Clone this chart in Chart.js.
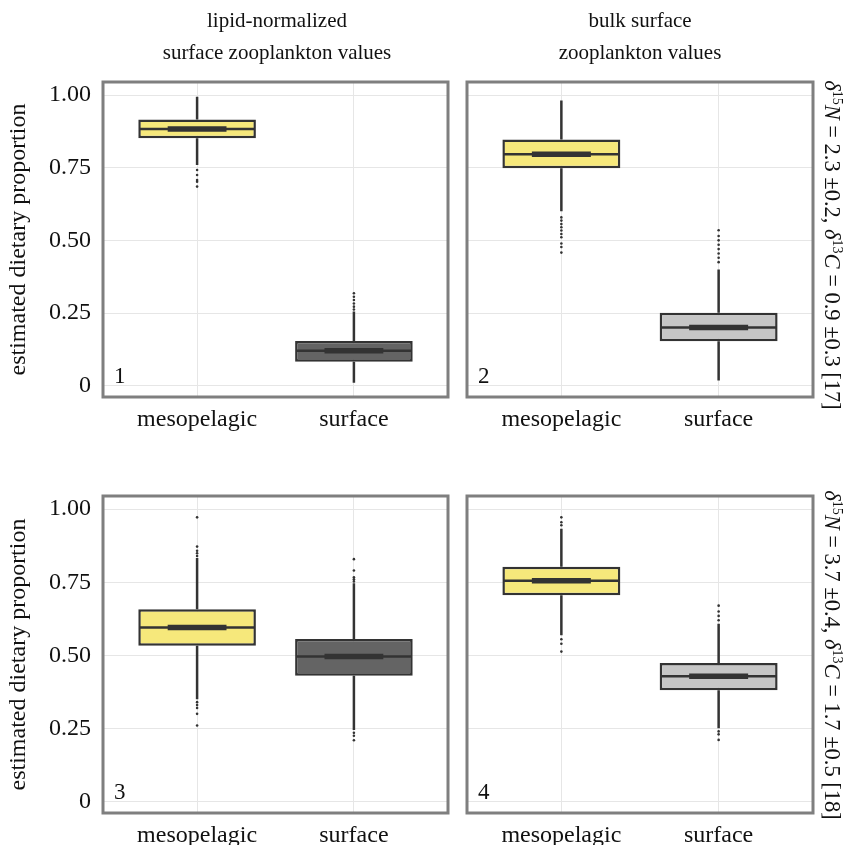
<!DOCTYPE html>
<html>
<head>
<meta charset="utf-8">
<script src="https://cdn.jsdelivr.net/npm/chart.js@4.4.1/dist/chart.umd.min.js"></script>
<style>
  body{ margin:0; background:#fff; }
  #wrap{ position:relative; width:854px; height:845px; overflow:hidden; font-family:"Liberation Serif", serif; color:#111; }
  canvas{ position:absolute; }
  .title{ position:absolute; width:360px; text-align:center; font-size:21px; line-height:32px; }
  .side{ position:absolute; width:420px; text-align:center; font-size:22.5px; line-height:26px; transform:rotate(90deg); white-space:nowrap; }
  .side sup{ font-size:14px; vertical-align:8px; line-height:0; }
</style>
</head>
<body>
<div id="wrap">
  <canvas id="c1" width="452" height="440" style="left:0;top:0"></canvas>
  <canvas id="c2" width="402" height="440" style="left:452px;top:0"></canvas>
  <canvas id="c3" width="452" height="405" style="left:0;top:440px"></canvas>
  <canvas id="c4" width="402" height="405" style="left:452px;top:440px"></canvas>

  <div class="title" style="left:97px;top:4px">lipid-normalized<br>surface zooplankton values</div>
  <div class="title" style="left:460px;top:4px">bulk surface<br>zooplankton values</div>

  <div class="side" style="left:622px;top:232px"><i>δ</i><sup>15</sup><i>N</i> = 2.3 ±0.2, <i>δ</i><sup>13</sup><i>C</i> = 0.9 ±0.3 [17]</div>
  <div class="side" style="left:622px;top:642px"><i>δ</i><sup>15</sup><i>N</i> = 3.7 ±0.4, <i>δ</i><sup>13</sup><i>C</i> = 1.7 ±0.5 [18]</div>
</div>

<script>
// data, one entry per panel (1..4), each with [mesopelagic, surface]
let categories = ["mesopelagic", "surface"];
let panelNumbers = ["1", "2", "3", "4"];
let yTicks = [0, 0.25, 0.5, 0.75, 1];
let yTickLabels = ["0", "0.25", "0.50", "0.75", "1.00"];

let q1 = [[0.851, 0.082], [0.748, 0.153], [0.533, 0.430], [0.706, 0.381]];
let medians = [[0.883, 0.120], [0.796, 0.200], [0.595, 0.496], [0.755, 0.429]];
let q3 = [[0.916, 0.154], [0.847, 0.251], [0.658, 0.556], [0.803, 0.474]];
let whiskerLow = [[0.759, 0.010], [0.600, 0.018], [0.350, 0.245], [0.569, 0.251]];
let whiskerHigh = [[0.994, 0.255], [0.981, 0.400], [0.833, 0.747], [0.933, 0.608]];
let outliers = [
  [[0.742, 0.725, 0.708, 0.702, 0.685], [0.262, 0.272, 0.283, 0.295, 0.306, 0.318]],
  [[0.579, 0.568, 0.556, 0.545, 0.534, 0.522, 0.511, 0.489, 0.477, 0.458], [0.425, 0.44, 0.455, 0.47, 0.485, 0.50, 0.515, 0.535]],
  [[0.972, 0.872, 0.858, 0.849, 0.840, 0.34, 0.33, 0.32, 0.30, 0.26], [0.829, 0.790, 0.767, 0.760, 0.753, 0.235, 0.225, 0.21]],
  [[0.945, 0.955, 0.972, 0.555, 0.54, 0.513], [0.62, 0.635, 0.65, 0.67, 0.24, 0.23, 0.211]]
];

let yMin = -0.039;
let yMax = 1.045;

let mesoFill = "#f6e87b";
let surfaceFill = ["#646464", "#c6c6c6", "#646464", "#c6c6c6"];
let ink = "#333333";
let serif = "'Liberation Serif', serif";

let boxPlugin = {
  id: "boxParts",
  beforeDatasetsDraw: function(chart){
    let p = chart.options.plugins.boxParts.panel;
    let x = chart.scales.x, y = chart.scales.y;
    let ctx = chart.ctx;
    ctx.save();
    ctx.strokeStyle = ink;
    ctx.lineWidth = 2.5;
    for(let i = 0; i < categories.length; i++){
      let px = x.getPixelForValue(i + 1);
      ctx.beginPath();
      ctx.moveTo(px, y.getPixelForValue(whiskerHigh[p][i]));
      ctx.lineTo(px, y.getPixelForValue(q3[p][i]));
      ctx.moveTo(px, y.getPixelForValue(q1[p][i]));
      ctx.lineTo(px, y.getPixelForValue(whiskerLow[p][i]));
      ctx.stroke();
    }
    ctx.restore();
  },
  afterDatasetsDraw: function(chart){
    let p = chart.options.plugins.boxParts.panel;
    let x = chart.scales.x, y = chart.scales.y;
    let ctx = chart.ctx;
    let half = (x.getPixelForValue(1.375) - x.getPixelForValue(1));
    ctx.save();
    ctx.strokeStyle = ink;
    for(let i = 0; i < categories.length; i++){
      let px = x.getPixelForValue(i + 1);
      let py = y.getPixelForValue(medians[p][i]);
      ctx.lineWidth = 2.5;
      ctx.beginPath();
      ctx.moveTo(px - half + 1, py);
      ctx.lineTo(px + half - 1, py);
      ctx.stroke();
      ctx.lineWidth = 5.5;
      ctx.beginPath();
      ctx.moveTo(px - half / 2, py);
      ctx.lineTo(px + half / 2, py);
      ctx.stroke();
    }
    ctx.restore();
  },
  afterDraw: function(chart){
    let p = chart.options.plugins.boxParts.panel;
    let a = chart.chartArea;
    let ctx = chart.ctx;
    ctx.save();
    ctx.strokeStyle = "#7f7f7f";
    ctx.lineWidth = 3;
    ctx.strokeRect(a.left, a.top, a.right - a.left, a.bottom - a.top);
    ctx.fillStyle = "#111";
    ctx.font = "23px " + serif;
    ctx.textAlign = "left";
    ctx.textBaseline = "alphabetic";
    ctx.fillText(panelNumbers[p], a.left + 11, a.bottom - 14);
    ctx.restore();
  }
};

function makePanel(id, p, left, top, h){
  let boxes = [];
  let dots = [];
  for(let i = 0; i < categories.length; i++){
    boxes.push({ x: i + 1, y: [q1[p][i], q3[p][i]] });
    outliers[p][i].forEach(function(v){
      dots.push({ x: i + 1, y: v });
    });
  }
  let canvasH = document.getElementById(id).height;

  return new Chart(document.getElementById(id), {
    type: "bar",
    data: {
      datasets: [{
        data: boxes,
        backgroundColor: [mesoFill, surfaceFill[p]],
        borderColor: ink,
        borderWidth: 2.5,
        borderSkipped: false,
        barPercentage: 0.75,
        categoryPercentage: 1,
        order: 2
      }, {
        type: "scatter",
        data: dots,
        pointRadius: 1.3,
        pointBackgroundColor: ink,
        pointBorderWidth: 0,
        order: 1
      }]
    },
    options: {
      responsive: false,
      animation: false,
      layout: { padding: { top: top, right: (id === "c1" || id === "c3") ? 3 : 41, left: 0, bottom: 0 } },
      plugins: {
        legend: { display: false },
        tooltip: { enabled: false },
        boxParts: { panel: p }
      },
      scales: {
        x: {
          type: "linear",
          min: 0.4,
          max: 2.6,
          offset: false,
          afterBuildTicks: function(s){
            s.ticks = categories.map(function(c, i){ return { value: i + 1 }; });
          },
          afterFit: function(s){ s.height = canvasH - h; },
          grid: { color: "#e6e6e6", lineWidth: 1, drawTicks: false, offset: false },
          border: { display: false },
          ticks: {
            padding: 8,
            maxRotation: 0,
            autoSkip: false,
            color: "#111",
            font: { family: serif, size: 24 },
            callback: function(v){ return categories[v - 1]; }
          }
        },
        y: {
          type: "linear",
          min: yMin,
          max: yMax,
          afterBuildTicks: function(s){
            s.ticks = yTicks.map(function(v){ return { value: v }; });
          },
          afterFit: function(s){ s.width = left; },
          grid: { color: "#e6e6e6", lineWidth: 1, drawTicks: false },
          border: { display: false },
          title: {
            display: left > 50,
            text: "estimated dietary proportion",
            color: "#111",
            font: { family: serif, size: 24 },
            padding: { top: 4, bottom: 0 }
          },
          ticks: {
            display: left > 50,
            padding: 12,
            color: "#111",
            font: { family: serif, size: 24 },
            callback: function(v){ return yTickLabels[yTicks.indexOf(v)]; }
          }
        }
      }
    },
    plugins: [boxPlugin]
  });
}

makePanel("c1", 0, 103, 82, 397);
makePanel("c2", 1, 15, 82, 397);
makePanel("c3", 2, 103, 56, 373);
makePanel("c4", 3, 15, 56, 373);
</script>
</body>
</html>
